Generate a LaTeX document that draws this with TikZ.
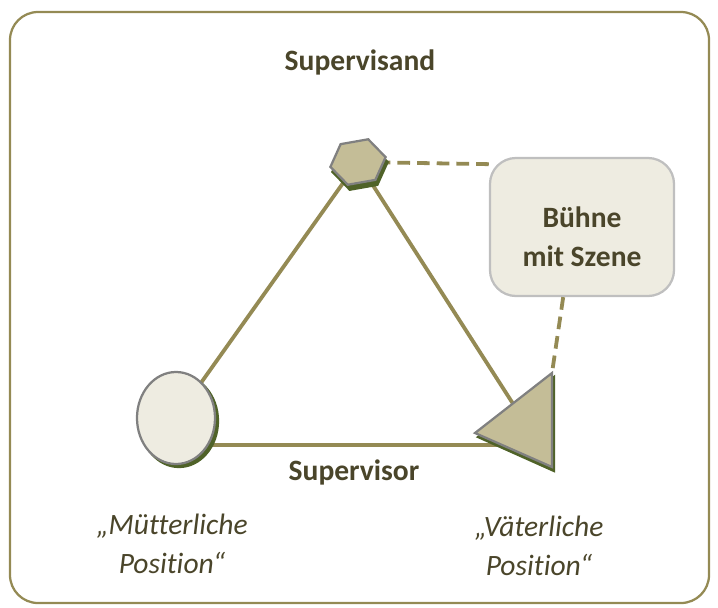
\documentclass[tikz,border=0pt]{standalone}
\usepackage{fontspec}
\setmainfont[Ligatures=NoCommon]{Carlito}
\usetikzlibrary{shapes.geometric}
\definecolor{oliv}{RGB}{148,138,84}
\definecolor{sand}{RGB}{196,189,151}
\definecolor{hell}{RGB}{238,236,225}
\definecolor{gruen}{RGB}{79,98,40}
\definecolor{grau}{RGB}{128,128,128}
\definecolor{boxrand}{RGB}{191,191,191}
\definecolor{schrift}{RGB}{74,69,42}
\begin{document}
\begin{tikzpicture}[x=0.025cm,y=-0.025cm,
  kante/.style={draw=oliv,line width=2.7pt},
  strich/.style={kante,dash pattern=on 9pt off 5pt},
  rand/.style={draw=grau,line width=1.6pt},
  schatten/.style={fill=gruen,draw=gruen,line width=1.6pt},
  fett/.style={font=\fontsize{21}{28}\selectfont\bfseries,text=schrift,align=center},
  kursiv/.style={font=\fontsize{21}{28}\selectfont\itshape,text=schrift,align=center}]
\useasboundingbox (0,0) rectangle (718,607);
\draw[oliv,line width=1.6pt,rounded corners=0.7cm] (10,12) rectangle (709,603);
% Eckpunkte
\coordinate (hex) at (358,162);
\coordinate (mutter) at (176,418);
\coordinate (va) at (475,433);
\coordinate (vb) at (552,373);
\coordinate (vc) at (552,467);
\coordinate (vater) at (526,424);
% Dreieck
\draw[kante] (hex)--(mutter);
\draw[kante] (hex)--(vater);
\draw[kante] ([yshift=-0.675cm]mutter)--([yshift=-0.675cm]mutter -| vater);
% Buehne
\node[rounded corners=0.65cm,draw=boxrand,fill=hell,line width=1.6pt,minimum width=4.6cm,minimum height=3.45cm,inner sep=0pt] (buehne) at (582,227) {};
\node[fett] (buehnetext) at (582,237) {Bühne\\mit Szene};
\draw[strich] (hex)--(buehne.146);
\draw[strich] (buehne.255)--(vb);
% Figuren
\node[regular polygon,regular polygon sides=6,minimum size=1.4cm,inner sep=0pt,rotate=10,yscale=0.85,schatten] at (360,167) {};
\node[regular polygon,regular polygon sides=6,minimum size=1.4cm,inner sep=0pt,rotate=10,yscale=0.85,rand,fill=sand] (sechseck) at (hex) {};
\node[ellipse,minimum width=1.95cm,minimum height=2.3cm,inner sep=0pt,schatten] at (179,421) {};
\node[ellipse,minimum width=1.95cm,minimum height=2.3cm,inner sep=0pt,rand,fill=hell] (oval) at (mutter) {};
\filldraw[schatten] (478,437)--(554,377)--(554,471)--cycle;
\filldraw[rand,fill=sand] (va)--(vb)--(vc)--cycle;
% Beschriftung
\node[fett] (supervisand) at (360,62) {Supervisand};
\node[fett] (supervisor) at (354,472) {Supervisor};
\node[kursiv] (muetterlich) at (172,544) {„Mütterliche\\Position“};
\node[kursiv] (vaeterlich) at (539,546) {„Väterliche\\Position“};
\end{tikzpicture}
\end{document}
